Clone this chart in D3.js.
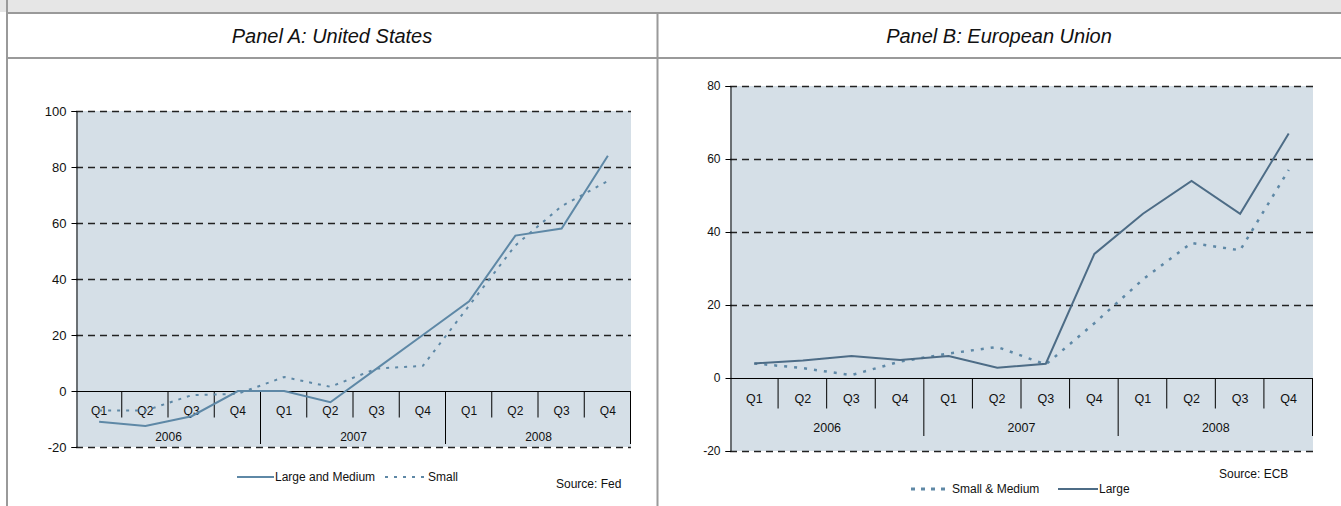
<!DOCTYPE html>
<html>
<head>
<meta charset="utf-8">
<script src="https://cdn.jsdelivr.net/npm/d3@7"></script>
<style>
  body { margin: 0; background: #fff; }
  svg { display: block; font-family: "Liberation Sans", Arial, sans-serif; }
</style>
</head>
<body>
<div id="chart"></div>
<script>
// quarters and years on the category axis
const years = ['2006', '2007', '2008'];
const quarterLabels = ['Q1', 'Q2', 'Q3', 'Q4'];

// Panel A: United States (Fed)
const usLargeMedium = [-11, -12.5, -9, 0, 0, -4, 8, 20, 32, 55.5, 58, 84];
const usSmall = [-7, -7, -1.5, -1, 5, 1.5, 8, 9, 30.5, 52, 66, 75];
const usTicks = [-20, 0, 20, 40, 60, 80, 100];

// Panel B: European Union (ECB)
const euSmallMedium = [4, 2.7, 0.8, 4.5, 6.7, 8.5, 3.7, 15, 27, 37, 35, 57];
const euLarge = [4, 4.8, 6, 4.9, 6, 2.8, 3.9, 34, 45, 54, 45, 67];
const euTicks = [-20, 0, 20, 40, 60, 80];

const periods = years.flatMap((y) => quarterLabels.map((q) => y + ' ' + q));

const width = 1341;
const height = 506;

const svg = d3
  .select('#chart')
  .append('svg')
  .attr('width', width)
  .attr('height', height);

// frame: grey strip on top, title row, panel dividers
svg.append('rect').attr('x', 0).attr('y', 0).attr('width', width).attr('height', 12).attr('fill', '#e6e6e6');
svg.append('line').attr('x1', 7).attr('x2', width).attr('y1', 13).attr('y2', 13).attr('stroke', '#9a9a9a').attr('stroke-width', 2);
svg.append('line').attr('x1', 7).attr('x2', width).attr('y1', 58).attr('y2', 58).attr('stroke', '#9a9a9a').attr('stroke-width', 2);
svg.append('line').attr('x1', 7).attr('x2', 7).attr('y1', 0).attr('y2', height).attr('stroke', '#9a9a9a').attr('stroke-width', 2);
svg.append('line').attr('x1', 657.5).attr('x2', 657.5).attr('y1', 13).attr('y2', height).attr('stroke', '#9a9a9a').attr('stroke-width', 2);

svg.append('text').attr('x', 332).attr('y', 43).attr('text-anchor', 'middle')
  .attr('font-size', 20).attr('font-style', 'italic').attr('fill', '#111').text('Panel A: United States');
svg.append('text').attr('x', 999).attr('y', 43).attr('text-anchor', 'middle')
  .attr('font-size', 20).attr('font-style', 'italic').attr('fill', '#111').text('Panel B: European Union');

function drawPanel({ left, right, top, bottom, domain, ticks, series, qTick, yearBottom, qFont, yearFont, yFont, qDy, yearY }) {
  const x = d3.scaleBand().domain(periods).range([left, right]);
  const y = d3.scaleLinear().domain(domain).range([bottom, top]);
  const g = svg.append('g');
  const y0 = Math.round(y(0)) + 0.5;

  g.append('rect')
    .attr('x', left).attr('y', y(domain[1]))
    .attr('width', right - left).attr('height', y(domain[0]) - y(domain[1]))
    .attr('fill', '#d5dfe7');

  // dashed gridlines
  g.selectAll('.grid')
    .data(ticks.filter((t) => t !== 0))
    .join('line')
    .attr('x1', left).attr('x2', right)
    .attr('y1', (d) => Math.round(y(d)) + 0.5).attr('y2', (d) => Math.round(y(d)) + 0.5)
    .attr('stroke', '#222').attr('stroke-width', 1.3).attr('stroke-dasharray', '7,5');

  // y axis
  const yAxis = g.append('g')
    .attr('transform', `translate(${left + 0.5},0)`)
    .call(d3.axisLeft(y).tickValues(ticks).tickSize(5).tickPadding(5).tickFormat((d) => String(d)))
    .attr('font-family', null)
    .attr('font-size', yFont);
  yAxis.select('.domain').attr('stroke', '#000');
  yAxis.selectAll('.tick line').attr('stroke', '#000');
  yAxis.selectAll('text').attr('fill', '#111');

  // category axis along zero
  g.append('line').attr('x1', left).attr('x2', right).attr('y1', y0).attr('y2', y0).attr('stroke', '#000');

  g.selectAll('.qdiv')
    .data(periods.slice(1).concat(['end']))
    .join('line')
    .attr('x1', (d) => (d === 'end' ? right : x(d)) - 0.5)
    .attr('x2', (d) => (d === 'end' ? right : x(d)) - 0.5)
    .attr('y1', y0)
    .attr('y2', (d, i) => (d === 'end' || (i + 1) % 4 === 0 ? yearBottom : y0 + qTick))
    .attr('stroke', '#000');

  g.selectAll('.qlab')
    .data(periods)
    .join('text')
    .attr('x', (d) => x(d) + x.bandwidth() / 2)
    .attr('y', y0 + qDy)
    .attr('text-anchor', 'middle')
    .attr('font-size', qFont).attr('fill', '#111')
    .text((d) => d.split(' ')[1]);

  g.selectAll('.ylab')
    .data(years)
    .join('text')
    .attr('x', (d) => x(d + ' Q1') + x.bandwidth() * 2)
    .attr('y', yearY)
    .attr('text-anchor', 'middle')
    .attr('font-size', yearFont).attr('fill', '#111')
    .text((d) => d);

  const line = d3.line()
    .x((d, i) => x(periods[i]) + x.bandwidth() / 2)
    .y((d) => y(d));

  series.forEach((s) => {
    g.append('path')
      .datum(s.values)
      .attr('d', line)
      .attr('fill', 'none')
      .attr('stroke', s.color)
      .attr('stroke-width', s.width)
      .attr('stroke-dasharray', s.dash);
  });
  return { x, y };
}

drawPanel({
  left: 76, right: 631, top: 111, bottom: 447,
  domain: [-20, 100], ticks: usTicks,
  qTick: 26, yearBottom: 444, qFont: 12, yearFont: 12, yFont: 13, qDy: 23, yearY: 441,
  series: [
    { values: usLargeMedium, color: '#5e88a6', width: 2, dash: null },
    { values: usSmall, color: '#5e88a6', width: 2, dash: '3,6' },
  ],
});

drawPanel({
  left: 730, right: 1313, top: 86, bottom: 451,
  domain: [-20, 80], ticks: euTicks,
  qTick: 30, yearBottom: 436, qFont: 12.5, yearFont: 12.5, yFont: 12, qDy: 24, yearY: 432,
  series: [
    { values: euSmallMedium, color: '#5e88a6', width: 2.5, dash: '3,7' },
    { values: euLarge, color: '#4d6c86', width: 2, dash: null },
  ],
});

// legends and sources
function legendItem(x0, y0, color, dash, widthPx, label, len) {
  svg.append('line').attr('x1', x0).attr('x2', x0 + len).attr('y1', y0).attr('y2', y0)
    .attr('stroke', color).attr('stroke-width', widthPx).attr('stroke-dasharray', dash);
  return svg.append('text').attr('x', x0 + len + 1).attr('y', y0 + 4).attr('font-size', 12).attr('fill', '#111').text(label);
}

legendItem(237, 477, '#5e88a6', null, 2, 'Large and Medium', 37);
legendItem(385, 477, '#5e88a6', '3,6', 2, 'Small', 42);
svg.append('text').attr('x', 556).attr('y', 488).attr('font-size', 12).attr('fill', '#111').text('Source: Fed');

legendItem(911, 489, '#5e88a6', '4,6', 3, 'Small & Medium', 40);
legendItem(1058, 489, '#4d6c86', null, 2, 'Large', 40);
svg.append('text').attr('x', 1219).attr('y', 478).attr('font-size', 12).attr('fill', '#111').text('Source: ECB');
</script>
</body>
</html>
